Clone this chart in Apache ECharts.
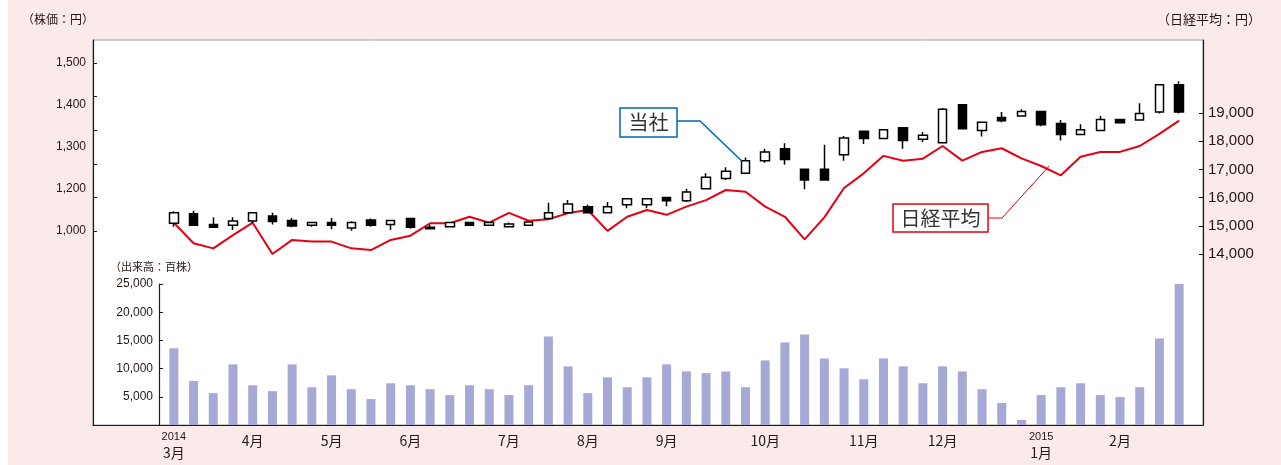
<!DOCTYPE html>
<html>
<head>
<meta charset="utf-8">
<script src="https://cdn.jsdelivr.net/npm/echarts@6/dist/echarts.min.js"></script>
<style>
  body { margin: 0; background: #fff; }
  #main { width: 1281px; height: 465px; background: linear-gradient(to right, #fff 8px, #fbeaea 8px); }
</style>
</head>
<body>
<div id="main"></div>
<script>
// 週ごとのラベル（月初の週だけ表示）
var weeks = ['2014\n3月', '', '', '', '4月', '', '', '', '5月', '', '', '', '6月', '', '', '', '', '7月', '', '', '',
  '8月', '', '', '', '9月', '', '', '', '', '10月', '', '', '', '', '11月', '', '', '', '12月', '', '', '', '',
  '2015\n1月', '', '', '', '2月', '', '', ''];

// 当社株価（週足）
var open = [1023, 1051, 1019, 1017, 1030, 1045, 1031, 1017, 1025, 1009, 1033, 1019, 1037, 1011, 1013, 1025, 1017, 1013, 1017, 1037,
  1054, 1072, 1054, 1078, 1078, 1100, 1090, 1126, 1156, 1172, 1209, 1245, 1184, 1184, 1227, 1297, 1275, 1307, 1273, 1263,
  1376, 1299, 1338, 1342, 1356, 1320, 1287, 1299, 1332, 1330, 1354, 1435];
var close = [1054, 1017, 1011, 1030, 1054, 1028, 1015, 1025, 1017, 1025, 1017, 1031, 1011, 1007, 1025, 1017, 1025, 1021, 1027, 1054,
  1080, 1054, 1072, 1096, 1096, 1090, 1116, 1160, 1178, 1209, 1235, 1213, 1152, 1152, 1277, 1275, 1301, 1269, 1285, 1362,
  1304, 1324, 1328, 1356, 1316, 1287, 1301, 1332, 1322, 1350, 1435, 1354];
var low = [1013, 1016, 1011, 1003, 1023, 1019, 1011, 1013, 1005, 1001, 1013, 1003, 1007, 1006, 1013, 1015, 1017, 1013, 1017, 1037,
  1051, 1054, 1054, 1068, 1068, 1074, 1086, 1124, 1152, 1172, 1203, 1197, 1124, 1152, 1209, 1259, 1275, 1245, 1265, 1263,
  1304, 1281, 1324, 1342, 1312, 1269, 1287, 1299, 1320, 1330, 1350, 1350];
var high = [1059, 1060, 1041, 1041, 1055, 1054, 1039, 1025, 1039, 1029, 1037, 1031, 1037, 1019, 1025, 1025, 1025, 1025, 1027, 1084,
  1092, 1078, 1086, 1096, 1096, 1102, 1126, 1172, 1190, 1219, 1245, 1261, 1184, 1257, 1283, 1297, 1301, 1307, 1295, 1366,
  1376, 1324, 1354, 1362, 1356, 1330, 1318, 1342, 1334, 1380, 1435, 1446];

// 日経平均
var nikkei = [15110, 14380, 14200, 14670, 15110, 14000, 14500, 14440, 14440, 14200, 14140, 14500, 14650, 15090, 15090, 15320, 15110, 15460, 15180, 15230,
  15450, 15560, 14820, 15320, 15560, 15390, 15680, 15910, 16270, 16210, 15680, 15320, 14520, 15300, 16340, 16860, 17480, 17310, 17380, 17830,
  17310, 17620, 17750, 17390, 17120, 16790, 17450, 17620, 17620, 17830, 18260, 18730];

// 出来高（百株）
var volume = [13600, 7800, 5650, 10750, 7050, 6000, 10750, 6700, 8800, 6350, 4600, 7400, 7050, 6350, 5300, 7050, 6350, 5300, 7050, 15700,
  10400, 5650, 8450, 6700, 8450, 10750, 9500, 9200, 9500, 6700, 11450, 14650, 16050, 11800, 10050, 8100, 11800, 10400, 7400, 10400,
  9500, 6350, 3900, 900, 5300, 6700, 7400, 5300, 4950, 6700, 15350, 25050];

// 左軸の目盛ラベル（元図の表記のまま）
var priceLabels = ['1,000', '1,200', '1,300', '1,400', '1,500'];

var candles = open.map(function (o, i) {
  return [o, close[i], low[i], high[i]];
});

var textColor = '#231815';
var latin = 'Liberation Sans, Arial, sans-serif';
var cjk = 'Noto Sans CJK JP, sans-serif';

var myChart = echarts.init(document.getElementById('main'));

var frameLine = { show: true, lineStyle: { color: textColor, width: 1.2 } };

var option = {
  animation: false,
  backgroundColor: 'transparent',
  textStyle: { fontFamily: latin, color: textColor },
  grid: [
    // 外枠
    { left: 93, right: 78, top: 40, bottom: 40, show: true, backgroundColor: '#fff', borderColor: '#a0a0a0', borderWidth: 1 },
    // 株価
    { left: 164, right: 92, top: 63, bottom: 234 },
    // 日経平均
    { left: 164, right: 92, top: 113, bottom: 211 },
    // 出来高
    { left: 164, right: 92, top: 284, bottom: 40 }
  ],
  xAxis: [
    { gridIndex: 0, type: 'value', min: 0, max: 1, axisLine: frameLine, axisTick: { show: false }, axisLabel: { show: false }, splitLine: { show: false } },
    { gridIndex: 1, type: 'category', data: weeks, show: false },
    { gridIndex: 2, type: 'category', data: weeks, show: false },
    {
      gridIndex: 3, type: 'category', data: weeks,
      axisLine: { show: false }, axisTick: { show: false },
      axisLabel: {
        interval: 0, margin: 6,
        formatter: function (v) {
          if (!v) return '';
          var p = v.split('\n');
          if (p.length > 1) return '{y|' + p[0] + '}\n{m|' + p[1] + '}';
          return '{m|' + v + '}';
        },
        rich: {
          y: { fontSize: 11, lineHeight: 12, fontFamily: latin, color: textColor },
          m: { fontSize: 14, lineHeight: 20, fontFamily: cjk, color: textColor }
        }
      }
    }
  ],
  yAxis: [
    { gridIndex: 0, type: 'value', min: 0, max: 1, position: 'left', axisLine: frameLine, axisTick: { show: false }, axisLabel: { show: false }, splitLine: { show: false } },
    { gridIndex: 0, type: 'value', min: 0, max: 1, position: 'right', axisLine: frameLine, axisTick: { show: false }, axisLabel: { show: false }, splitLine: { show: false } },
    {
      gridIndex: 1, type: 'value', min: 1000, max: 1500, interval: 100, position: 'left', offset: 71,
      axisLine: { show: false },
      axisTick: { show: true, inside: true, length: 4, lineStyle: { color: textColor } },
      axisLabel: { show: false }, splitLine: { show: false }
    },
    {
      gridIndex: 1, type: 'category', data: priceLabels, boundaryGap: false, position: 'left', offset: 71,
      axisLine: { show: false }, axisTick: { show: false }, splitLine: { show: false },
      axisLabel: { margin: 7, fontSize: 12, color: textColor, fontFamily: latin }
    },
    {
      gridIndex: 2, type: 'value', min: 14000, max: 19000, interval: 1000, position: 'right', offset: 14,
      axisLine: { show: false },
      axisTick: { show: true, inside: true, length: 4, lineStyle: { color: textColor } },
      splitLine: { show: false },
      axisLabel: {
        margin: 5, fontSize: 15, color: textColor, fontFamily: 'Liberation Sans Narrow, Arial Narrow, Liberation Sans, sans-serif',
        formatter: function (v) { return v.toLocaleString('en-US'); }
      }
    },
    {
      gridIndex: 3, type: 'value', min: 0, max: 25000, interval: 5000, position: 'left', offset: 5,
      axisLine: { show: true, lineStyle: { color: textColor, width: 1.2 } },
      axisTick: { show: true, inside: true, length: 4, lineStyle: { color: textColor } },
      splitLine: { show: false },
      axisLabel: {
        margin: 6, fontSize: 12, color: textColor, fontFamily: latin,
        formatter: function (v) { return v === 0 ? '' : v.toLocaleString('en-US'); }
      }
    }
  ],
  series: [
    {
      name: '当社', type: 'candlestick', xAxisIndex: 1, yAxisIndex: 2,
      data: candles, barWidth: 9,
      itemStyle: { color: '#fff', color0: '#000', borderColor: '#000', borderColor0: '#000', borderWidth: 1.5 },
      z: 3
    },
    {
      name: '日経平均', type: 'line', xAxisIndex: 2, yAxisIndex: 4,
      data: nikkei, symbol: 'none',
      lineStyle: { color: '#e60012', width: 2 },
      z: 2
    },
    {
      name: '出来高', type: 'bar', xAxisIndex: 3, yAxisIndex: 5,
      data: volume, barWidth: 9,
      itemStyle: { color: '#a6a8d6' }
    }
  ]
};

myChart.setOption(option);

// 注記（吹き出し）は系列上の点に合わせて線を引く
var pA = myChart.convertToPixel({ seriesIndex: 0 }, [29, close[29]]);
var pB = myChart.convertToPixel({ seriesIndex: 1 }, [44, nikkei[44]]);

myChart.setOption({
  graphic: [
    { type: 'text', left: 22, top: 13, style: { text: '（株価：円）', font: '12px ' + cjk, fill: textColor } },
    { type: 'text', right: 20, top: 13, style: { text: '（日経平均：円）', font: '13px ' + cjk, fill: textColor } },
    { type: 'text', left: 110, top: 261, style: { text: '（出来高：百株）', font: '11px ' + cjk, fill: textColor } },

    { type: 'polyline', shape: { points: [[677, 121], [700, 121], [pA[0] - 4, pA[1]]] }, style: { stroke: '#0068b7', lineWidth: 1.5, fill: null }, z: 10 },
    { type: 'rect', shape: { x: 620, y: 108, width: 57, height: 29 }, style: { fill: '#fff', stroke: '#0068b7', lineWidth: 1.5 }, z: 10 },
    { type: 'text', x: 648.5, y: 122.5, style: { text: '当社', font: '20px ' + cjk, fill: '#333', align: 'center', verticalAlign: 'middle' }, z: 11 },

    { type: 'polyline', shape: { points: [[988, 218], [1002, 218], [pB[0] + 8, pB[1]]] }, style: { stroke: '#e60012', lineWidth: 1, fill: null }, z: 10 },
    { type: 'rect', shape: { x: 893, y: 204, width: 95, height: 28 }, style: { fill: '#fff', stroke: '#e60012', lineWidth: 1.5 }, z: 10 },
    { type: 'text', x: 940.5, y: 218, style: { text: '日経平均', font: '20px ' + cjk, fill: '#333', align: 'center', verticalAlign: 'middle' }, z: 11 }
  ]
});
</script>
</body>
</html>
